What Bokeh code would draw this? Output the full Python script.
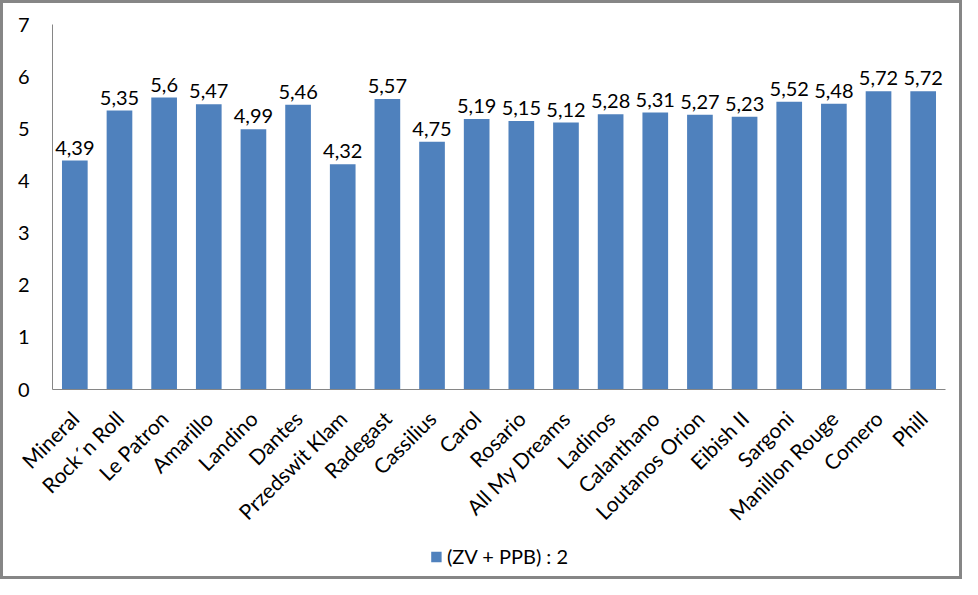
from bokeh.plotting import figure
from bokeh.models import ColumnDataSource, FactorRange, Range1d, Legend, LegendItem, FixedTicker
from bokeh.layouts import column
from bokeh.core.properties import value
from bokeh.embed import file_html
from bokeh.resources import INLINE
import math

categories = ["Mineral", "Rock´n Roll", "Le Patron", "Amarillo", "Landino", "Dantes",
              "Przedswit Klam", "Radegast", "Cassilius", "Carol", "Rosario", "All My Dreams",
              "Ladinos", "Calanthano", "Loutanos Orion", "Eibish II", "Sargoni",
              "Manillon Rouge", "Comero", "Phill"]
values = [4.39, 5.35, 5.6, 5.47, 4.99, 5.46, 4.32, 5.57, 4.75, 5.19, 5.15, 5.12,
          5.28, 5.31, 5.27, 5.23, 5.52, 5.48, 5.72, 5.72]
y_ticks = [0, 1, 2, 3, 4, 5, 6, 7]
series_name = "(ZV + PPB) : 2"

labels = [("%g" % v).replace(".", ",") for v in values]
src = ColumnDataSource(dict(cat=categories, val=values, lab=labels))

FONT = "Lato"
FS = "20px"
BAR = "#4F81BD"
GRAY = "#868686"

p = figure(width=956, height=533, output_backend="svg", toolbar_location=None,
           x_range=FactorRange(*categories, range_padding=0),
           y_range=Range1d(0, 7),
           min_border_left=49, min_border_right=14, min_border_top=21, min_border_bottom=146)
p.outline_line_color = None
p.xgrid.grid_line_color = None
p.ygrid.grid_line_color = None

r = p.vbar(x="cat", top="val", width=0.575, source=src, fill_color=BAR, line_color=None)

p.text(x="cat", y="val", text="lab", source=src, text_align="center", text_baseline="alphabetic",
       y_offset=-13, text_font=value(FONT), text_font_size=FS, text_color="#000000")

p.yaxis.ticker = FixedTicker(ticks=y_ticks)
p.yaxis.major_tick_line_color = None
p.yaxis.minor_tick_line_color = None
p.yaxis.axis_line_color = GRAY
p.yaxis.major_label_text_font = FONT
p.yaxis.major_label_text_font_size = FS
p.yaxis.major_label_text_color = "#000000"
p.yaxis.major_label_standoff = 17

p.xaxis.major_tick_line_color = None
p.xaxis.axis_line_color = GRAY
p.xaxis.major_label_orientation = math.pi / 4
p.xaxis.major_label_text_font = FONT
p.xaxis.major_label_text_font_size = "21px"
p.xaxis.major_label_text_color = "#000000"
p.xaxis.major_label_standoff = 19

# legend strip below the chart
p2 = figure(width=956, height=40, output_backend="svg", toolbar_location=None,
            x_range=Range1d(0, 1), y_range=Range1d(0, 1),
            min_border_left=0, min_border_right=0, min_border_top=0, min_border_bottom=0)
p2.axis.visible = False
p2.xgrid.grid_line_color = None
p2.ygrid.grid_line_color = None
p2.outline_line_color = None
# zero-height bar: only supplies the legend swatch
r2 = p2.vbar(x=[0.5], top=[0], bottom=[0], width=0, fill_color=BAR, line_color=None)

legend = Legend(items=[LegendItem(label=series_name, renderers=[r2])],
                location="center", orientation="horizontal",
                padding=0, margin=0, spacing=0, border_line_color=None,
                background_fill_alpha=0, glyph_width=13, glyph_height=13,
                label_standoff=5, label_text_font=FONT, label_text_font_size=FS,
                label_text_color="#000000")
p2.add_layout(legend, "center")

layout = column(p, p2, spacing=0, styles={"border": f"3px solid {GRAY}"})

open("out.html", "w").write(file_html(layout, INLINE))
